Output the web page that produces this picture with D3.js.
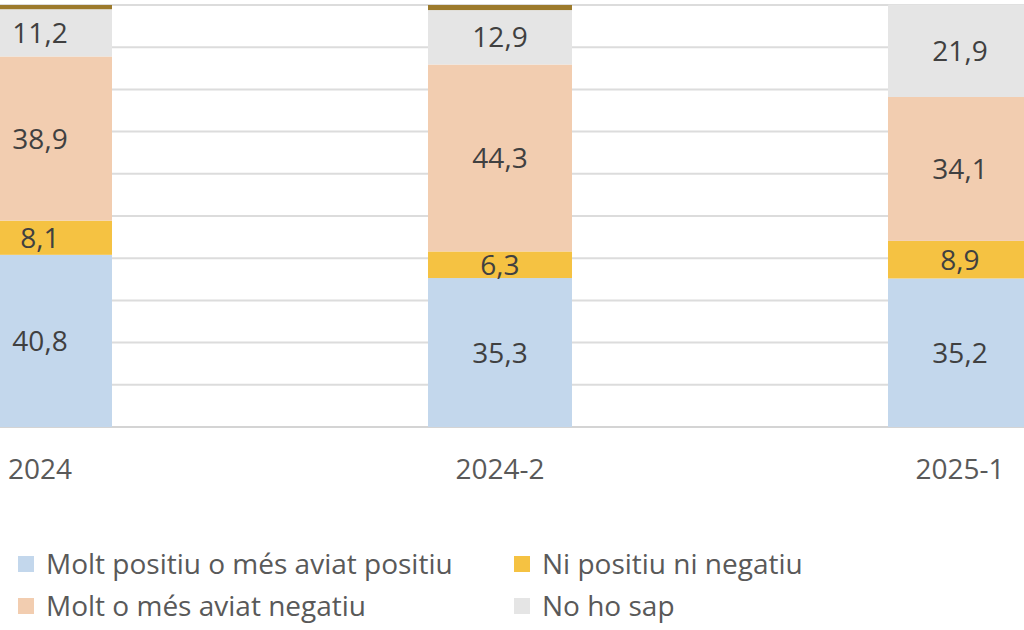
<!DOCTYPE html>
<html>
<head>
<meta charset="utf-8">
<script src="https://cdn.jsdelivr.net/npm/d3@7"></script>
<style>
  html, body { margin: 0; padding: 0; background: #ffffff; overflow: hidden; }
  svg { display: block; }
</style>
</head>
<body>
<svg id="chart" width="1024" height="630"></svg>
<script>
// ---- data ----
const categories = ["2024", "2024-2", "2025-1"];
const seriesNames = ["Molt positiu o més aviat positiu", "Ni positiu ni negatiu", "Molt o més aviat negatiu", "No ho sap", "No contesta"];
const positiu   = [40.8, 35.3, 35.2];
const niNi      = [8.1, 6.3, 8.9];
const negatiu   = [38.9, 44.3, 34.1];
const noHoSap   = [11.2, 12.9, 21.9];
const noContesta = [1.0, 1.2, 0.0];
const yTicks = [0, 10, 20, 30, 40, 50, 60, 70, 80, 90, 100];
const legendItems = ["Molt positiu o més aviat positiu", "Ni positiu ni negatiu", "Molt o més aviat negatiu", "No ho sap"];

const seriesValues = [positiu, niNi, negatiu, noHoSap, noContesta];
const colors = ["#c3d7ec", "#f5c242", "#f2cdb0", "#e5e5e5", "#9c7a2c"];
const showLabel = [true, true, true, true, false];

const svg = d3.select("#chart");

const x = d3.scaleBand().domain(categories).range([-190, 1190]).paddingInner(0.687).paddingOuter(0.3435);
const y = d3.scaleLinear().domain([0, 100]).range([427, 5]);

const color = d3.scaleOrdinal().domain(seriesNames).range(colors);

// gridlines
svg.append("g").selectAll("line").data(yTicks).join("line")
  .attr("x1", 0).attr("x2", 1024)
  .attr("y1", d => y(d)).attr("y2", d => y(d))
  .attr("stroke", d => d === 0 ? "#d4d4d4" : "#dcdcdc")
  .attr("stroke-width", 2);

// stacked data
const rows = categories.map((c, i) => {
  const r = { cat: c };
  seriesNames.forEach((s, j) => r[s] = seriesValues[j][i]);
  return r;
});
const stacked = d3.stack().keys(seriesNames)(rows);

const layers = svg.append("g").selectAll("g").data(stacked).join("g")
  .attr("fill", d => color(d.key));

layers.selectAll("rect").data(d => d).join("rect")
  .attr("x", d => x(d.data.cat))
  .attr("width", x.bandwidth())
  .attr("y", d => y(d[1]))
  .attr("height", d => y(d[0]) - y(d[1]));

// value labels
const fmt = v => d3.format(".1f")(v).replace(".", ",");
stacked.forEach((layer, j) => {
  if (!showLabel[j]) return;
  svg.append("g").selectAll("text").data(layer).join("text")
    .attr("x", d => x(d.data.cat) + x.bandwidth() / 2)
    .attr("y", d => (y(d[0]) + y(d[1])) / 2)
    .attr("dy", "0.36em")
    .attr("text-anchor", "middle")
    .attr("font-family", "'Open Sans', sans-serif")
    .attr("font-size", 28)
    .attr("fill", "#404040")
    .text(d => fmt(d[1] - d[0]));
});

// x axis labels
const xAxis = d3.axisBottom(x).tickSize(0).tickPadding(0);
const gx = svg.append("g").attr("transform", "translate(0,459)").call(xAxis);
gx.select(".domain").remove();
gx.selectAll("text")
  .attr("y", 0).attr("dy", "0.71em")
  .attr("font-family", "'Open Sans', sans-serif")
  .attr("font-size", 28)
  .attr("fill", "#595959");

// legend
const legendX = d3.scalePoint().domain([0, 1]).range([18, 514]);
const legendY = d3.scalePoint().domain([0, 1]).range([564, 606]);
const lg = svg.append("g").selectAll("g").data(legendItems).join("g")
  .attr("transform", (d, i) => `translate(${legendX(i % 2)},${legendY(Math.floor(i / 2))})`);
lg.append("rect")
  .attr("x", 0).attr("y", -8).attr("width", 16).attr("height", 16)
  .attr("fill", d => color(d));
lg.append("text")
  .attr("x", 28).attr("y", 0).attr("dy", "0.36em")
  .attr("font-family", "'Open Sans', sans-serif")
  .attr("font-size", 28)
  .attr("fill", "#595959")
  .text(d => d);
</script>
</body>
</html>
